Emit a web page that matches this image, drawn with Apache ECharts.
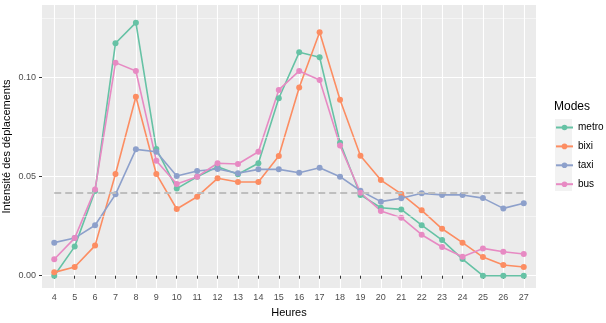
<!DOCTYPE html>
<html>
<head>
<meta charset="utf-8">
<script src="https://cdn.jsdelivr.net/npm/echarts@6/dist/echarts.min.js"></script>
<style>
  html, body { margin: 0; padding: 0; background: #fff; }
  #chart { width: 606px; height: 323px; }
</style>
</head>
<body>
<div id="chart"></div>
<script>
// heures et intensités
const hours = [4, 5, 6, 7, 8, 9, 10, 11, 12, 13, 14, 15, 16, 17, 18, 19, 20, 21, 22, 23, 24, 25, 26, 27];
const metro = [0.000, 0.0147, 0.0428, 0.1174, 0.1278, 0.0640, 0.0440, 0.0500, 0.0550, 0.0512, 0.0568, 0.0896,
    0.1128, 0.1103, 0.0672, 0.0408, 0.0343, 0.0335, 0.0255, 0.0180, 0.0084, 0.000, 0.000, 0.000];
const bixi = [0.0017, 0.0044, 0.0152, 0.0514, 0.0904, 0.0514, 0.0337, 0.0399, 0.0492, 0.0473, 0.0473, 0.0605,
    0.0950, 0.1229, 0.0889, 0.0606, 0.0483, 0.0413, 0.0330, 0.0237, 0.0167, 0.0094, 0.0054, 0.0044];
const taxi = [0.0167, 0.0190, 0.0255, 0.0411, 0.0638, 0.0626, 0.0504, 0.0529, 0.0539, 0.0517, 0.0537, 0.0537,
    0.0520, 0.0545, 0.0500, 0.0429, 0.0374, 0.0391, 0.0416, 0.0408, 0.0408, 0.0392, 0.0340, 0.0366];
const bus = [0.0083, 0.0190, 0.0436, 0.1076, 0.1034, 0.0581, 0.0463, 0.0500, 0.0568, 0.0564, 0.0626, 0.0938,
    0.1034, 0.0988, 0.0657, 0.0419, 0.0327, 0.0293, 0.0207, 0.0145, 0.0096, 0.0138, 0.0121, 0.0110];
const modes = ['metro', 'bixi', 'taxi', 'bus'];
const colors = ['#66C2A5', '#FC8D62', '#8DA0CB', '#E78AC3'];
const yTicks = [0, 0.05, 0.1];
const yMinor = [0.025, 0.075, 0.125];
const reference = 1 / 24;

const chart = echarts.init(document.getElementById('chart'));
const font = 'Liberation Sans';

const lineSeries = [metro, bixi, taxi, bus].map((values, i) => ({
    name: modes[i],
    type: 'line',
    data: hours.map((h, j) => [h, values[j]]),
    symbol: 'circle',
    symbolSize: 6,
    lineStyle: { width: 1.6, color: colors[i] },
    itemStyle: { color: colors[i] },
    z: 3
}));

const option = {
    animation: false,
    backgroundColor: '#fff',
    color: colors,
    grid: {
        left: 42,
        right: 70,
        top: 5,
        bottom: 35,
        outerBoundsMode: 'none',
        containLabel: false,
        show: true,
        backgroundColor: '#EBEBEB',
        borderWidth: 0
    },
    legend: {
        orient: 'vertical',
        left: 550,
        top: 117.5,
        itemWidth: 17,
        itemHeight: 7,
        itemGap: 8.9,
        data: modes,
        textStyle: { fontFamily: font, fontSize: 10, color: '#000' }
    },
    xAxis: {
        type: 'value',
        min: 3.4,
        max: 27.6,
        name: 'Heures',
        nameLocation: 'middle',
        nameGap: 19,
        nameMoveOverlap: false,
        nameTextStyle: { fontFamily: font, fontSize: 11, color: '#000' },
        axisLine: { show: false },
        axisTick: { show: true, customValues: hours, length: 3, lineStyle: { color: '#333' } },
        axisLabel: { customValues: hours, fontFamily: font, fontSize: 9, color: '#4D4D4D', margin: 5 },
        splitLine: { show: true, lineStyle: { color: '#fff', width: 1.1 } }
    },
    yAxis: {
        type: 'value',
        min: -0.0062,
        max: 0.1367,
        name: 'Intensité des déplacements',
        nameLocation: 'middle',
        nameGap: 30,
        nameMoveOverlap: false,
        nameTextStyle: { fontFamily: font, fontSize: 11, color: '#000' },
        axisLine: { show: false },
        axisTick: { show: true, customValues: yTicks, length: 3, lineStyle: { color: '#333' } },
        axisLabel: {
            customValues: yTicks,
            fontFamily: font,
            fontSize: 9,
            color: '#4D4D4D',
            margin: 6,
            formatter: v => v.toFixed(2)
        },
        splitLine: { show: true, lineStyle: { color: '#fff', width: 1.1 } }
    },
    graphic: [
        {
            type: 'text',
            left: 554,
            top: 101,
            style: { text: 'Modes', font: '12px "Liberation Sans"', fill: '#000' }
        },
        {
            type: 'rect',
            left: 555,
            top: 119,
            shape: { width: 17, height: 72 },
            style: { fill: '#F2F2F2' },
            z: -1
        }
    ],
    series: [
        {
            // lignes secondaires de la grille
            name: 'grille',
            type: 'line',
            data: [],
            z: 1,
            silent: true,
            markLine: {
                silent: true,
                symbol: 'none',
                label: { show: false },
                lineStyle: { color: '#fff', width: 0.5, type: 'solid' },
                data: yMinor.map(v => ({ yAxis: v }))
            }
        },
        {
            // référence 1/24
            name: 'ref',
            type: 'line',
            data: [],
            z: 2,
            silent: true,
            markLine: {
                silent: true,
                symbol: 'none',
                label: { show: false },
                lineStyle: { color: '#BEBEBE', width: 2, type: [7, 4] },
                data: [[{ coord: [4, reference] }, { coord: [27, reference] }]]
            }
        }
    ].concat(lineSeries)
};

chart.setOption(option);
</script>
</body>
</html>
